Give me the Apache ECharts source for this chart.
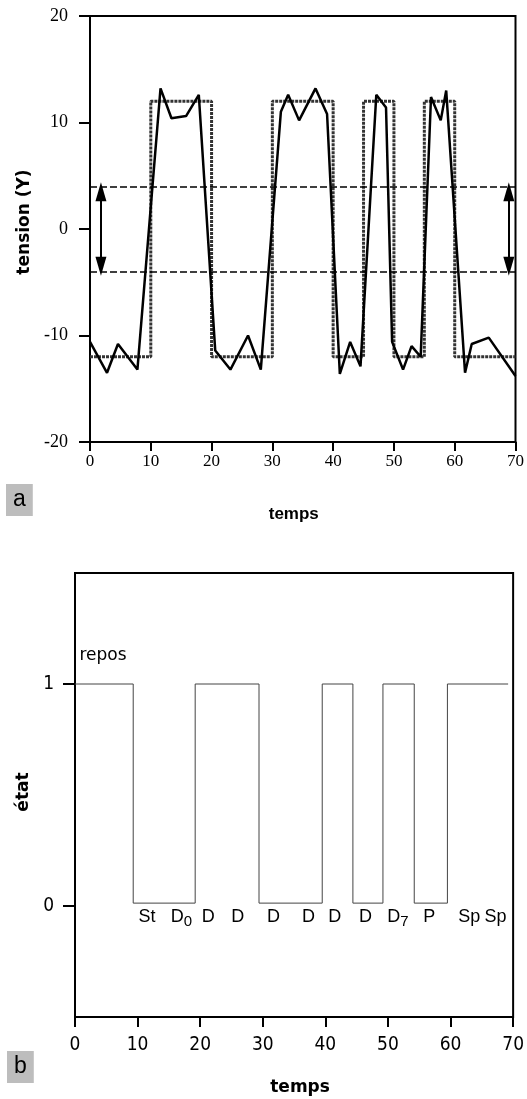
<!DOCTYPE html>
<html>
<head>
<meta charset="utf-8">
<script src="https://cdn.jsdelivr.net/npm/echarts@6/dist/echarts.min.js"></script>
<style>
html,body{margin:0;padding:0;background:#fff;}
#chart{width:527px;height:1099px;}
</style>
</head>
<body>
<div id="chart"></div>
<script>
// ---- Data: panel a (tension vs temps) ----
var signalTemps = [0, 2.8, 4.6, 7.8, 11.6, 13.4, 15.8, 17.9, 20.6, 23.1, 26.0, 28.1, 31.4, 32.6, 34.4, 37.1, 39.0, 41.1, 42.8, 44.5, 47.1, 48.7, 49.7, 51.5, 52.9, 54.4, 56.1, 57.7, 58.6, 61.7, 62.8, 65.6, 70];
var signalTension = [-10.6, -13.5, -10.8, -13.2, 13.2, 10.4, 10.6, 12.6, -11.4, -13.2, -10.0, -13.2, 11.0, 12.6, 10.2, 13.2, 10.8, -13.6, -10.6, -12.9, 12.6, 11.4, -10.6, -13.2, -11.0, -12.0, 12.4, 10.2, 13.0, -13.5, -10.8, -10.2, -13.8];
var squareTemps = [0, 10, 20, 30, 40, 45, 50, 55, 60, 70];
var squareTension = [-12, 12, -12, 12, -12, 12, -12, 12, -12, -12];
var thresholds = [4, -4];
var arrowTemps = [1.8, 68.9];
var arrowShaft = [-3.5, 3.5];
var tensionTicks = [-20, -10, 0, 10, 20];

// ---- Data: panel b (état vs temps) ----
var etatTemps = [0, 9.3, 19.2, 29.4, 39.5, 44.4, 49.2, 54.2, 59.5, 69.2];
var etatValues = [1, 0.013, 1, 0.013, 1, 0.013, 1, 0.013, 1, 1];
var stateLabels = ['St', 'D{s|0}', 'D', 'D', 'D', 'D', 'D', 'D', 'D{s|7}', 'P', 'Sp', 'Sp'];
var stateLabelTemps = [11.5, 17.0, 21.3, 26.0, 31.7, 37.3, 41.5, 46.4, 51.6, 56.6, 63.0, 67.2];
var stateLabelLevel = -0.05;
var reposLabel = {text: 'repos', t: 0.7, v: 1.13};
var etatTicks = [0, 1];
var tempsTicks = [0, 10, 20, 30, 40, 50, 60, 70];

function pairs(xs, ys) { return xs.map(function (x, i) { return [x, ys[i]]; }); }

var chart = echarts.init(document.getElementById('chart'), null, {renderer: 'canvas'});

var panelLabelStyle = {fontSize: 23, lineHeight: 26, fontWeight: 'normal', color: '#000', fontFamily: 'Liberation Sans'};

var option = {
  animation: false,
  backgroundColor: '#fff',
  title: [
    {text: 'a', left: 6, top: 484, padding: [3, 7, 3, 7], backgroundColor: '#bdbdbd', textStyle: panelLabelStyle},
    {text: 'b', left: 7, top: 1051, padding: [3, 7, 3, 7], backgroundColor: '#bdbdbd', textStyle: panelLabelStyle}
  ],
  grid: [
    {left: 90, right: 11, top: 16, height: 426, show: true, borderColor: '#000', borderWidth: 2, containLabel: false},
    {left: 75, right: 9, top: 573, height: 444, show: true, borderColor: '#000', borderWidth: 2, containLabel: false}
  ],
  xAxis: [
    {gridIndex: 0, type: 'value', min: 0, max: 70, interval: 10,
     name: 'temps', nameLocation: 'middle', nameGap: 64,
     nameTextStyle: {fontFamily: 'Liberation Sans', fontWeight: 'bold', fontSize: 17, color: '#000', padding: [0, 18, 0, 0]},
     axisLine: {show: true, onZero: false, lineStyle: {color: '#000', width: 2}},
     axisTick: {show: true, length: 9, lineStyle: {color: '#000', width: 2}},
     axisLabel: {margin: 11, fontFamily: 'Liberation Serif', fontSize: 17, color: '#000'},
     splitLine: {show: false}},
    {gridIndex: 1, type: 'value', min: 0, max: 70, interval: 10,
     name: 'temps', nameLocation: 'middle', nameGap: 62,
     nameTextStyle: {fontFamily: 'DejaVu Sans', fontWeight: 'bold', fontSize: 17, color: '#000', padding: [0, 0, 0, 12]},
     axisLine: {show: true, onZero: false, lineStyle: {color: '#000', width: 2}},
     axisTick: {show: true, length: 10, lineStyle: {color: '#000', width: 2}},
     axisLabel: {margin: 19, fontFamily: '"Liberation Sans Narrow", "DejaVu Sans Condensed", sans-serif', fontSize: 19, color: '#000'},
     splitLine: {show: false}}
  ],
  yAxis: [
    {gridIndex: 0, type: 'value', min: -20, max: 20, interval: 10,
     name: 'tension (Y)', nameLocation: 'middle', nameGap: 57,
     nameTextStyle: {fontFamily: 'DejaVu Sans', fontWeight: 'bold', fontSize: 17, color: '#000', padding: [0, 0, 0, 14]},
     axisLine: {show: true, onZero: false, lineStyle: {color: '#000', width: 2}},
     axisTick: {show: true, length: 11, lineStyle: {color: '#000', width: 2}},
     axisLabel: {margin: 22, fontFamily: 'Liberation Serif', fontSize: 18, color: '#000'},
     splitLine: {show: false}},
    {gridIndex: 1, type: 'value', min: -0.5, max: 1.5,
     name: 'état', nameLocation: 'middle', nameGap: 41,
     nameTextStyle: {fontFamily: 'DejaVu Sans', fontWeight: 'bold', fontSize: 17, color: '#000', padding: [0, 0, 0, 6]},
     axisLine: {show: true, onZero: false, lineStyle: {color: '#000', width: 2}},
     axisTick: {show: true, length: 12, customValues: etatTicks, lineStyle: {color: '#000', width: 2}},
     axisLabel: {margin: 21, customValues: etatTicks, fontFamily: '"Liberation Sans Narrow", "DejaVu Sans Condensed", sans-serif', fontSize: 19, color: '#000'},
     splitLine: {show: false}}
  ],
  series: [
    {type: 'line', xAxisIndex: 0, yAxisIndex: 0, step: 'end', symbol: 'none',
     data: pairs(squareTemps, squareTension),
     lineStyle: {color: '#333', width: 3, type: [3, 1]}, z: 2},
    {type: 'line', xAxisIndex: 0, yAxisIndex: 0, symbol: 'none',
     data: pairs(signalTemps, signalTension),
     lineStyle: {color: '#000', width: 2.5}, z: 3,
     markLine: {
       silent: true, symbol: ['none', 'none'], label: {show: false},
       lineStyle: {color: '#000', width: 1.5, type: [7, 3]},
       data: thresholds.map(function (v) { return {yAxis: v}; })
     }},
    {type: 'line', xAxisIndex: 0, yAxisIndex: 0, symbol: 'none', data: [],
     markLine: {
       silent: true, symbol: ['triangle', 'triangle'], symbolSize: [11, 19], label: {show: false},
       lineStyle: {color: '#000', width: 2, type: 'solid'},
       data: arrowTemps.map(function (t) { return [{coord: [t, arrowShaft[0]]}, {coord: [t, arrowShaft[1]]}]; })
     }},
    {type: 'line', xAxisIndex: 1, yAxisIndex: 1, step: 'end', symbol: 'none',
     data: pairs(etatTemps, etatValues),
     lineStyle: {color: '#444', width: 1}},
    {type: 'scatter', xAxisIndex: 1, yAxisIndex: 1, symbolSize: 0, silent: true,
     itemStyle: {opacity: 1},
     data: stateLabelTemps.map(function (t, i) { return {value: [t, stateLabelLevel], name: stateLabels[i]}; }),
     label: {show: true, position: 'inside', formatter: function (p) { return p.name; },
       color: '#000', fontFamily: 'Liberation Sans', fontSize: 18,
       rich: {s: {fontFamily: 'Liberation Sans', fontSize: 15, color: '#000', padding: [9, 0, 0, 0]}}}},
    {type: 'scatter', xAxisIndex: 1, yAxisIndex: 1, symbolSize: 0, silent: true,
     itemStyle: {opacity: 1},
     data: [{value: [reposLabel.t, reposLabel.v], name: reposLabel.text}],
     label: {show: true, position: 'inside', align: 'left', formatter: function (p) { return p.name; },
       color: '#000', fontFamily: 'DejaVu Sans', fontSize: 17}}
  ]
};
chart.setOption(option);
</script>
</body>
</html>
